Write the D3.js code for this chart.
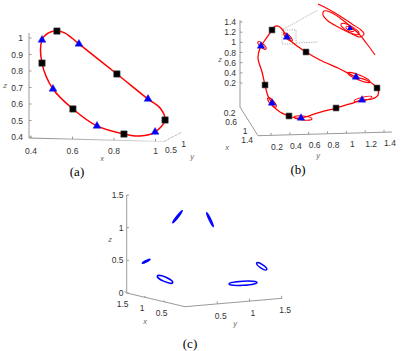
<!DOCTYPE html>
<html><head><meta charset="utf-8">
<script src="https://cdn.jsdelivr.net/npm/d3@7"></script>
<style>body{margin:0;background:#fff}</style>
</head><body>
<svg id="c" width="415" height="351"></svg>
<script>
// ---------- Panel (a): projected x–z view ----------
const aXTicks = [0.4, 0.6, 0.8, 1];
const aZTicks = [0.4, 0.5, 0.6, 0.7, 0.8, 0.9, 1];
const aYTicks = [0.5, 1];
const aLoopX = [0.525,0.564,0.631,0.814,0.964,1.022,1.046,0.998,0.925,0.848,0.718,0.602,0.506,0.453,0.453,0.482];
const aLoopZ = [1.042,1.030,0.964,0.782,0.630,0.576,0.503,0.430,0.406,0.418,0.467,0.570,0.691,0.848,0.988,1.030];
const aSqX  = [0.525,0.814,1.046,0.848,0.602,0.453];
const aSqZ  = [1.042,0.782,0.503,0.418,0.570,0.848];
const aTriX = [0.631,0.964,0.998,0.718,0.506,0.453];
const aTriZ = [0.964,0.630,0.430,0.467,0.691,0.988];

// ---------- Panel (b): projected y–z view ----------
const bZTicks = [0.2,0.4,0.6,0.8,1,1.2,1.4];
const bYTicks = [0.2,0.4,0.6,0.8,1,1.2,1.4];
const bXTicks = [0.2,0.6,1,1.4];
const bLoopY = [0.147,0.168,0.211,0.253,0.306,0.359,0.508,0.657,0.869,1.039,1.145,1.262,1.273,1.209,1.103,0.975,0.827,0.635,0.455,0.402,0.327,0.232,0.158,0.147,0.104,0.073,0.041,-0.002,0.019,0.030,0.073];
const bLoopZ = [1.243,1.302,1.321,1.262,1.105,1.007,0.810,0.652,0.475,0.318,0.259,0.102,-0.036,-0.115,-0.134,-0.213,-0.292,-0.390,-0.489,-0.489,-0.449,-0.370,-0.252,-0.193,-0.056,0.161,0.416,0.692,0.889,0.928,1.046];
const bSqY  = [0.147,0.508,1.262,0.827,0.327,0.073];
const bSqZ  = [1.243,0.810,0.102,-0.292,-0.449,0.161];
const bTriY = [0.306,1.039,1.103,0.455,0.147,0.030];
const bTriZ = [1.105,0.318,-0.134,-0.489,-0.193,0.928];
// small loops around the triangle points: tips (y1,z1)-(y2,z2), minor/major ratio
const bOrbY1 = [0.954,1.018,0.381,0.104,-0.002,0.274];
const bOrbZ1 = [0.397,-0.154,-0.469,-0.095,1.007,1.184];
const bOrbY2 = [1.188,1.209,0.572,0.189,0.083,0.359];
const bOrbZ2 = [0.220,-0.075,-0.508,-0.272,0.869,1.026];
const bOrbR  = [0.2,0.2,0.22,0.35,0.35,0.35];
// zoomed inset trajectory
const bInsY = [0.635,0.742,0.869,0.996,1.092,1.124,1.081,0.975,0.848,0.742,0.688,0.699,0.763,0.869,0.975,1.071,1.156,1.241];
const bInsZ = [1.754,1.656,1.518,1.361,1.243,1.164,1.105,1.184,1.302,1.420,1.538,1.616,1.597,1.479,1.321,1.164,0.967,0.751];
const bInsOrbY1 = [0.880,0.933], bInsOrbZ1 = [1.361,1.302];
const bInsOrbY2 = [1.071,1.018], bInsOrbZ2 = [1.164,1.223];
const bInsOrbR  = [0.3,0.4];
const bInsTri = [0.975,1.275];
const bBox = [0.253,0.402,1.243,0.967];          // y0,y1,z0,z1
const bInsAnchors = [[0.635,1.636],[0.635,1.007]];

// ---------- Panel (c): projected y–z view ----------
const cZTicks = [0,0.5,1,1.5];
const cXTicks = [1.5,1,0.5];
const cYTicks = [0.5,1,1.5];
const cOrbY1 = [-0.191,0.316,-0.645,-0.421,1.063,0.649];
const cOrbZ1 = [1.076,1.229,0.455,0.260,0.459,0.138];
const cOrbY2 = [-0.048,0.415,-0.530,-0.191,1.212,1.067];
const cOrbZ2 = [1.260,1.015,0.516,0.158,0.357,0.161];
const cOrbR  = [0.1,0.1,0.12,0.27,0.3,0.15];

const svg = d3.select("#c");
const SANS = "'Liberation Sans', Arial, sans-serif";
const SERIF = "'Liberation Serif', 'Times New Roman', serif";
const AX = "#9a9a9a", TXT = "#333";

function line(g,x1,y1,x2,y2,stroke,w){
  return g.append("line").attr("x1",x1).attr("y1",y1).attr("x2",x2).attr("y2",y2)
    .attr("stroke",stroke||AX).attr("stroke-width",w||1);
}
function text(g,x,y,s,anchor,size,opts){
  const t=g.append("text").attr("x",x).attr("y",y).text(s)
    .attr("text-anchor",anchor||"middle").attr("font-family",SANS)
    .attr("font-size",size||8.5).attr("fill",TXT);
  if(opts&&opts.italic){t.attr("font-style","italic").attr("fill","#666");}
  if(opts&&opts.serif){t.attr("font-family",SERIF).attr("fill","#000");}
  return t;
}
function fmt(v){return String(v);}
function orbit(g,x1,y1,x2,y2,ratio,color,w){
  const cx=(x1+x2)/2, cy=(y1+y2)/2;
  const a=Math.hypot(x2-x1,y2-y1)/2, b=Math.max(a*ratio,0.6);
  const ang=Math.atan2(y2-y1,x2-x1)*180/Math.PI;
  g.append("ellipse").attr("cx",0).attr("cy",0).attr("rx",a).attr("ry",b)
   .attr("transform",`translate(${cx},${cy}) rotate(${ang})`)
   .attr("fill","none").attr("stroke",color).attr("stroke-width",w);
}
const sq = d3.symbol(d3.symbolSquare), tri = d3.symbol(d3.symbolTriangle);

// ====== Panel (a) ======
{
  const g = svg.append("g");
  const xA = d3.scaleLinear().domain([0.4,1]).range([31,155.5]);
  const zA = d3.scaleLinear().domain([0.4,1]).range([137,38]);
  const slopeA = d3.scaleLinear().domain([29,164]).range([138,141.5]);
  const defs = svg.append("defs");
  const gr = defs.append("linearGradient").attr("id","fadeA").attr("x1","0").attr("x2","1").attr("y1","0").attr("y2","0");
  gr.append("stop").attr("offset","0").attr("stop-color","#8a8a8a");
  gr.append("stop").attr("offset","1").attr("stop-color","#e2e2e2");
  line(g,29,33,29,138);
  g.append("path").attr("d",`M29,138L164,141.5`).attr("stroke","url(#fadeA)").attr("stroke-width",1.2).attr("fill","none");
  g.append("path").attr("d",`M164,141.5L182,132`).attr("stroke","#bbb").attr("stroke-width",1).attr("stroke-dasharray","3,1").attr("fill","none");
  aZTicks.forEach(v=>{ line(g,29,zA(v),31.5,zA(v)); text(g,23,zA(v)+3,fmt(v),"end"); });
  aXTicks.forEach(v=>{ line(g,xA(v),slopeA(xA(v)),xA(v),slopeA(xA(v))-2.5); text(g,xA(v),154,fmt(v)); });
  const yLx = d3.scaleLinear().domain([0.5,1]).range([171,183.5]);
  const yLy = d3.scaleLinear().domain([0.5,1]).range([153,146.5]);
  aYTicks.forEach(v=>text(g,yLx(v),yLy(v),fmt(v)));
  text(g,5,88,"z","middle",7.5,{italic:true});
  text(g,102,161,"x","middle",7.5,{italic:true});
  text(g,192,159,"y","middle",7.5,{italic:true});
  const pts = aLoopX.map((x,i)=>[xA(x),zA(aLoopZ[i])]);
  g.append("path").attr("d",d3.line().curve(d3.curveCatmullRomClosed.alpha(0.5))(pts))
    .attr("fill","none").attr("stroke","#ff0000").attr("stroke-width",1.5);
  aSqX.forEach((x,i)=>g.append("path").attr("d",sq.size(40)()).attr("transform",`translate(${xA(x)},${zA(aSqZ[i])})`)
    .attr("fill","#000").attr("stroke","#444").attr("stroke-width",0.6));
  aTriX.forEach((x,i)=>g.append("path").attr("d",tri.size(26)()).attr("transform",`translate(${xA(x)},${zA(aTriZ[i])})`)
    .attr("fill","#0000ff").attr("stroke","#2222cc").attr("stroke-width",0.5));
  text(g,77,176,"(a)","middle",13,{serif:true});
}

// ====== Panel (b) ======
{
  const g = svg.append("g");
  const yB = d3.scaleLinear().domain([0.2,1.4]).range([277,390]);
  const zB = d3.scaleLinear().domain([0.2,1.4]).range([83,22]);
  line(g,240,20,240,107);
  line(g,240,107,258,135.7);
  line(g,258,135.7,392,132);
  bZTicks.forEach(v=>{ line(g,240,zB(v),242.5,zB(v)); text(g,236,zB(v)+3,fmt(v),"end"); });
  const yTickY = d3.scaleLinear().domain([0.2,1.4]).range([149.5,146]);
  const yAxisY = d3.scaleLinear().domain([258,392]).range([135.7,132]);
  bYTicks.forEach(v=>{ const px=yB(v)-6; line(g,px,yAxisY(px),px,yAxisY(px)-2.5); text(g,yB(v),yTickY(v),fmt(v)); });
  const xLx = d3.scaleLinear().domain([0.2,0.6,1,1.4]).range([235.5,237,247.5,253]);
  const xLy = d3.scaleLinear().domain([0.2,1.4]).range([116,143]);
  bXTicks.forEach(v=>text(g,xLx(v),xLy(v),fmt(v),"end"));
  text(g,220,62,"z","middle",7.5,{italic:true});
  text(g,227,150,"x","middle",7.5,{italic:true});
  text(g,318,158,"y","middle",7.5,{italic:true});
  g.append("rect").attr("x",yB(bBox[0])).attr("y",zB(bBox[2])).attr("width",yB(bBox[1])-yB(bBox[0])).attr("height",zB(bBox[3])-zB(bBox[2]))
    .attr("fill","none").attr("stroke","#999").attr("stroke-width",0.8).attr("stroke-dasharray","1.2,1.2");
  line(g,yB(bBox[0])+1,zB(bBox[2])-0.5,yB(bInsAnchors[0][0]),zB(bInsAnchors[0][1]),"#aaa",0.8).attr("stroke-dasharray","1.5,1");
  line(g,yB(bBox[1]),zB(bBox[3])-1,yB(bInsAnchors[1][0]),zB(bInsAnchors[1][1]),"#aaa",0.8).attr("stroke-dasharray","1.5,1");
  const pts = bLoopY.map((y,i)=>[yB(y),zB(bLoopZ[i])]);
  g.append("path").attr("d",d3.line().curve(d3.curveCatmullRomClosed.alpha(0.5))(pts))
    .attr("fill","none").attr("stroke","#ff0000").attr("stroke-width",1.3);
  bOrbY1.forEach((y,i)=>orbit(g,yB(y),zB(bOrbZ1[i]),yB(bOrbY2[i]),zB(bOrbZ2[i]),bOrbR[i],"#ff0000",1.1));
  const ins = bInsY.map((y,i)=>[yB(y),zB(bInsZ[i])]);
  g.append("path").attr("d",d3.line().curve(d3.curveCatmullRom.alpha(0.5))(ins))
    .attr("fill","none").attr("stroke","#ff0000").attr("stroke-width",1.15);
  bInsOrbY1.forEach((y,i)=>orbit(g,yB(y),zB(bInsOrbZ1[i]),yB(bInsOrbY2[i]),zB(bInsOrbZ2[i]),bInsOrbR[i],"#ff0000",0.9));
  g.append("path").attr("d",tri.size(16)()).attr("transform",`translate(${yB(bInsTri[0])},${zB(bInsTri[1])})`).attr("fill","#0000ff");
  bSqY.forEach((y,i)=>g.append("path").attr("d",sq.size(34)()).attr("transform",`translate(${yB(y)},${zB(bSqZ[i])})`)
    .attr("fill","#000").attr("stroke","#444").attr("stroke-width",0.6));
  bTriY.forEach((y,i)=>g.append("path").attr("d",tri.size(24)()).attr("transform",`translate(${yB(y)},${zB(bTriZ[i])})`)
    .attr("fill","#0000ff").attr("stroke","#2222cc").attr("stroke-width",0.5));
  text(g,298,174,"(b)","middle",13,{serif:true});
}

// ====== Panel (c) ======
{
  const g = svg.append("g");
  const yC = d3.scaleLinear().domain([0.5,1.5]).range([219,286]);
  const zC = d3.scaleLinear().domain([0,1.5]).range([293,195]);
  line(g,126.7,195,126.7,293);
  line(g,126.7,293,185,306.7);
  line(g,185,306.7,282,298.3);
  cZTicks.forEach(v=>{ line(g,126.7,zC(v),129,zC(v)); text(g,123.5,zC(v)+3,fmt(v),"end"); });
  const xAx = d3.scaleLinear().domain([1.5,0]).range([126.7,185]);
  const xAy = d3.scaleLinear().domain([1.5,0]).range([293,306.7]);
  cXTicks.forEach(v=>{ line(g,xAx(v),xAy(v),xAx(v)-2,xAy(v)-1.5); text(g,xAx(v)-4,xAy(v)+13.5,fmt(v)); });
  const yAx = d3.scaleLinear().domain([0,1.5]).range([185,281.7]);
  const yAy = d3.scaleLinear().domain([0,1.5]).range([306.7,298.3]);
  cYTicks.forEach(v=>{ line(g,yAx(v),yAy(v),yAx(v),yAy(v)-2.5); text(g,yAx(v)+3.5,yAy(v)+15,fmt(v)); });
  text(g,110,242,"z","middle",7.5,{italic:true});
  text(g,145,324,"x","middle",7.5,{italic:true});
  text(g,235,326,"y","middle",7.5,{italic:true});
  cOrbY1.forEach((y,i)=>orbit(g,yC(y),zC(cOrbZ1[i]),yC(cOrbY2[i]),zC(cOrbZ2[i]),cOrbR[i],"#0000ff",1.5));
  text(g,190,348,"(c)","middle",13,{serif:true});
}
</script>
</body></html>
